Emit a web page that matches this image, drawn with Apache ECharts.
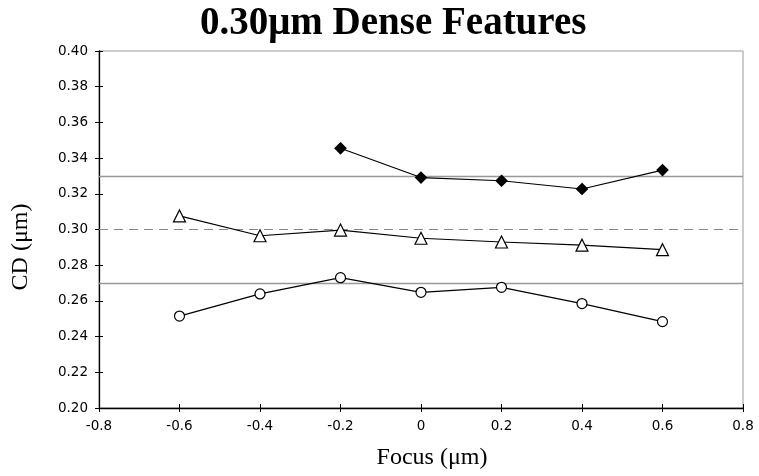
<!DOCTYPE html>
<html><head><meta charset="utf-8">
<script src="https://cdn.jsdelivr.net/npm/echarts@6/dist/echarts.min.js"></script>
<style>html,body{margin:0;padding:0;background:#fff}#c{width:759px;height:476px}</style>
</head><body><div id="c"></div>
<script>
const focus = [-0.6, -0.4, -0.2, 0, 0.2, 0.4, 0.6];
const diamondCD = [null, null, 0.3455, 0.3291, 0.3273, 0.3227, 0.3333];
const triangleCD = [0.3076, 0.2965, 0.2997, 0.2951, 0.2930, 0.2912, 0.2887];
const circleCD = [0.2515, 0.2639, 0.2730, 0.2648, 0.2676, 0.2585, 0.2484];
const specLimits = [0.33, 0.27];
const targetCD = 0.30;

const pair = arr => focus.map((f, i) => [f, arr[i]]).filter(p => p[1] !== null);
const chart = echarts.init(document.getElementById('c'));
const tickFont = {fontFamily: 'DejaVu Sans', fontSize: 13.5, color: '#000'};
const baseSeries = (data, symbol, size, fill) => ({
  type: 'line', data, symbol, symbolSize: size, showSymbol: true,
  lineStyle: {color: '#000', width: 1.2},
  itemStyle: {color: fill, borderColor: '#000', borderWidth: 1.2},
  z: 5, animation: false
});
const refSeries = {
  type: 'line', data: [], silent: true,
  markLine: {
    symbol: 'none', silent: true, label: {show: false}, animation: false,
    data: [
      ...specLimits.map(v => ({yAxis: v, lineStyle: {color: '#999', width: 1.3, type: 'solid'}})),
      {yAxis: targetCD, lineStyle: {color: '#888', width: 1, type: [9, 6]}}
    ]
  }
};
chart.setOption({
  animation: false,
  graphic: [{
    type: 'text', left: 200, top: 4,
    style: {text: '0.30μm Dense Features', font: 'bold 39px "Liberation Serif"', fill: '#000'}
  }, {
    type: 'text', x: 432, y: 458,
    style: {text: 'Focus (μm)', font: '24px "Liberation Serif"', fill: '#000', align: 'center', verticalAlign: 'middle'}
  }, {
    type: 'text', x: 21, y: 247, rotation: Math.PI / 2,
    style: {text: 'CD (μm)', font: '24px "Liberation Serif"', fill: '#000', align: 'center', verticalAlign: 'middle'}
  }],
  grid: {left: 99, right: 16, top: 51, bottom: 68, show: true, borderColor: '#999', borderWidth: 1},
  xAxis: [{
    type: 'value', min: -0.8, max: 0.8, interval: 0.2,
    axisLine: {show: true, onZero: false, lineStyle: {color: '#000', width: 1.3}},
    axisTick: {show: true, length: 4, lineStyle: {color: '#000'}},
    axisLabel: Object.assign({margin: 11, formatter: v => (Math.round(v*10)/10).toString()}, tickFont),
    splitLine: {show: false}
  }, {
    type: 'value', min: -0.8, max: 0.8, interval: 0.2, position: 'bottom',
    axisLine: {show: false, onZero: false}, axisLabel: {show: false}, splitLine: {show: false},
    axisTick: {show: true, inside: true, length: 4, lineStyle: {color: '#000'}}
  }],
  yAxis: [{
    type: 'value', min: 0.20, max: 0.40, interval: 0.02,
    axisLine: {show: true, onZero: false, lineStyle: {color: '#000', width: 1.3}},
    axisTick: {show: true, length: 4, lineStyle: {color: '#000'}},
    axisLabel: Object.assign({margin: 11, formatter: v => v.toFixed(2)}, tickFont),
    splitLine: {show: false}
  }, {
    type: 'value', min: 0.20, max: 0.40, interval: 0.02, position: 'left',
    axisLine: {show: false, onZero: false}, axisLabel: {show: false}, splitLine: {show: false},
    axisTick: {show: true, inside: true, length: 4, lineStyle: {color: '#000'}}
  }],
  series: [
    refSeries,
    baseSeries(pair(diamondCD), 'diamond', 11, '#000'),
    baseSeries(pair(triangleCD), 'triangle', 12, '#fff'),
    baseSeries(pair(circleCD), 'circle', 10, '#fff')
  ]
});
</script></body></html>
